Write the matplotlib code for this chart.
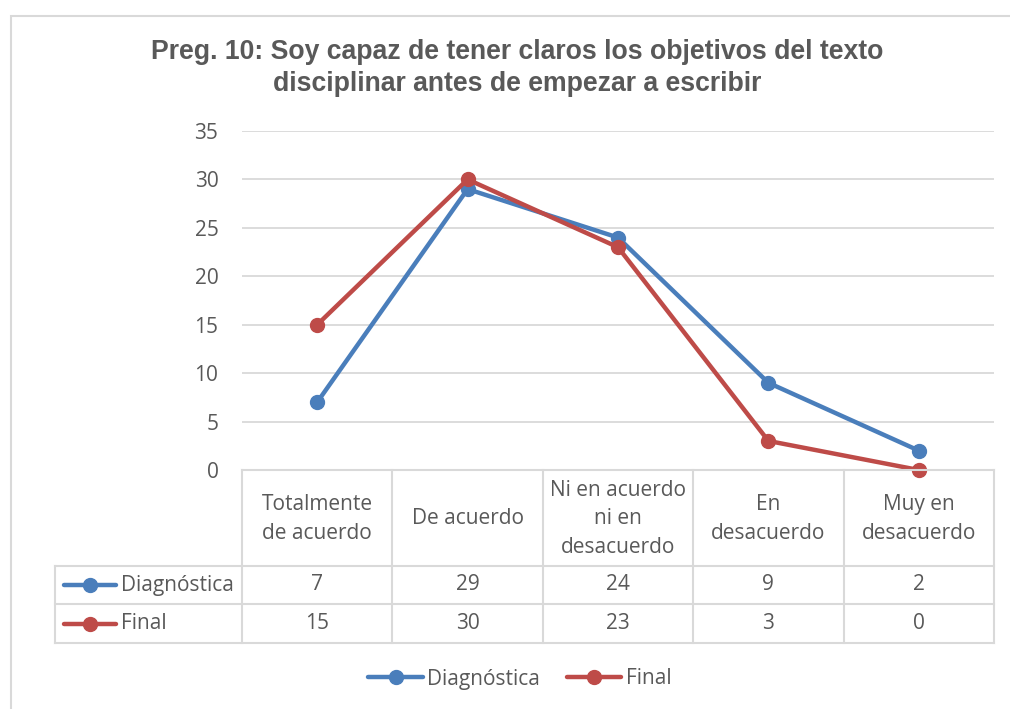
import matplotlib
matplotlib.use("Agg")
import matplotlib.pyplot as plt
from matplotlib.lines import Line2D
from matplotlib.patches import Rectangle
import matplotlib.transforms as mtransforms

categories = ["Totalmente\nde acuerdo", "De acuerdo", "Ni en acuerdo\nni en\ndesacuerdo",
              "En\ndesacuerdo", "Muy en\ndesacuerdo"]
diagnostica = [7, 29, 24, 9, 2]
final = [15, 30, 23, 3, 0]
series_names = ["Diagnóstica", "Final"]
series_colors = ["#4A7EBB", "#BE4B48"]
title = "Preg. 10: Soy capaz de tener claros los objetivos del texto\ndisciplinar antes de empezar a escribir"

W, H = 1010, 709
TXT = "#595959"
GRID = "#D9D9D9"
FONT = "Open Sans"
FS = 15

fig = plt.figure(figsize=(W / 100, H / 100), dpi=100)

def fx(px):
    return px / W

def fy(py):
    return 1 - py / H

# outer chart frame
fig.patches.append(Rectangle((fx(11), fy(712)), fx(1010), fy(16) - fy(712),
                             transform=fig.transFigure, fill=False, ec=GRID, lw=1.5))

ax_l, ax_r, ax_t, ax_b = 242, 994, 131, 470
ax = fig.add_axes([fx(ax_l), fy(ax_b), fx(ax_r - ax_l), fy(ax_t) - fy(ax_b)])

x = list(range(len(categories)))
for vals, name, col in zip([diagnostica, final], series_names, series_colors):
    ax.plot(x, vals, color=col, lw=3.2, marker="o", ms=10, label=name,
            solid_capstyle="round", zorder=3, clip_on=False)

ax.set_xlim(-0.5, len(categories) - 0.5)
ax.set_ylim(0, 35)
ax.set_yticks(range(0, 36, 5))
ax.set_xticks([])
ax.grid(axis="y", color=GRID, lw=1.3)
ax.set_axisbelow(True)
for s in ["top", "right", "left", "bottom"]:
    ax.spines[s].set_visible(False)
ax.tick_params(axis="y", length=0, pad=17, labelsize=FS, labelcolor=TXT)
for lab in ax.get_yticklabels():
    lab.set_fontfamily(FONT)

# data table below the plot
trans = mtransforms.blended_transform_factory(ax.transData, fig.transFigure)
row_y = [470, 566, 604, 643]
tbl_left = 55

fig.add_artist(Line2D([-0.5, len(categories) - 0.5], [fy(row_y[0])] * 2,
                      transform=trans, color=GRID, lw=1.5))
for py in row_y[1:]:
    fig.add_artist(Line2D([fx(tbl_left), fx(ax_r)], [fy(py)] * 2,
                          transform=fig.transFigure, color=GRID, lw=1.5))
for i in range(len(categories) + 1):
    fig.add_artist(Line2D([i - 0.5, i - 0.5], [fy(row_y[0]), fy(row_y[-1])],
                          transform=trans, color=GRID, lw=1.5))
fig.add_artist(Line2D([fx(tbl_left), fx(tbl_left)], [fy(row_y[1]), fy(row_y[-1])],
                      transform=fig.transFigure, color=GRID, lw=1.5))

for i, cat in enumerate(categories):
    fig.text(i, fy((row_y[0] + row_y[1]) / 2 + 1), cat, transform=trans, ha="center",
             va="center", fontsize=FS, color=TXT, family=FONT, linespacing=1.48)

for r, (vals, name, col) in enumerate(zip([diagnostica, final], series_names, series_colors)):
    yc = fy((row_y[r + 1] + row_y[r + 2]) / 2)
    for i, v in enumerate(vals):
        fig.text(i, yc, str(v), transform=trans, ha="center", va="center",
                 fontsize=FS, color=TXT, family=FONT)
    fig.add_artist(Line2D([fx(64), fx(116)], [yc, yc], color=col, lw=3.2,
                          transform=fig.transFigure, solid_capstyle="round"))
    fig.add_artist(Line2D([fx(90)], [yc], color=col, marker="o", ms=10,
                          transform=fig.transFigure))
    fig.text(fx(121), yc, name, ha="left", va="center", fontsize=FS, color=TXT,
             family=FONT)

# legend
leg = fig.legend(loc="center", bbox_to_anchor=(fx(520), fy(679)), ncol=2, frameon=False,
                 handlelength=2.6, columnspacing=1.3, handletextpad=0.22,
                 prop={"family": FONT, "size": FS})
for t in leg.get_texts():
    t.set_color(TXT)

fig.text(fx(517), fy(68), title, ha="center", va="center", fontsize=19.2,
         fontweight="bold", color=TXT, family="Liberation Sans", linespacing=1.28)

fig.savefig("out.png", dpi=100)
